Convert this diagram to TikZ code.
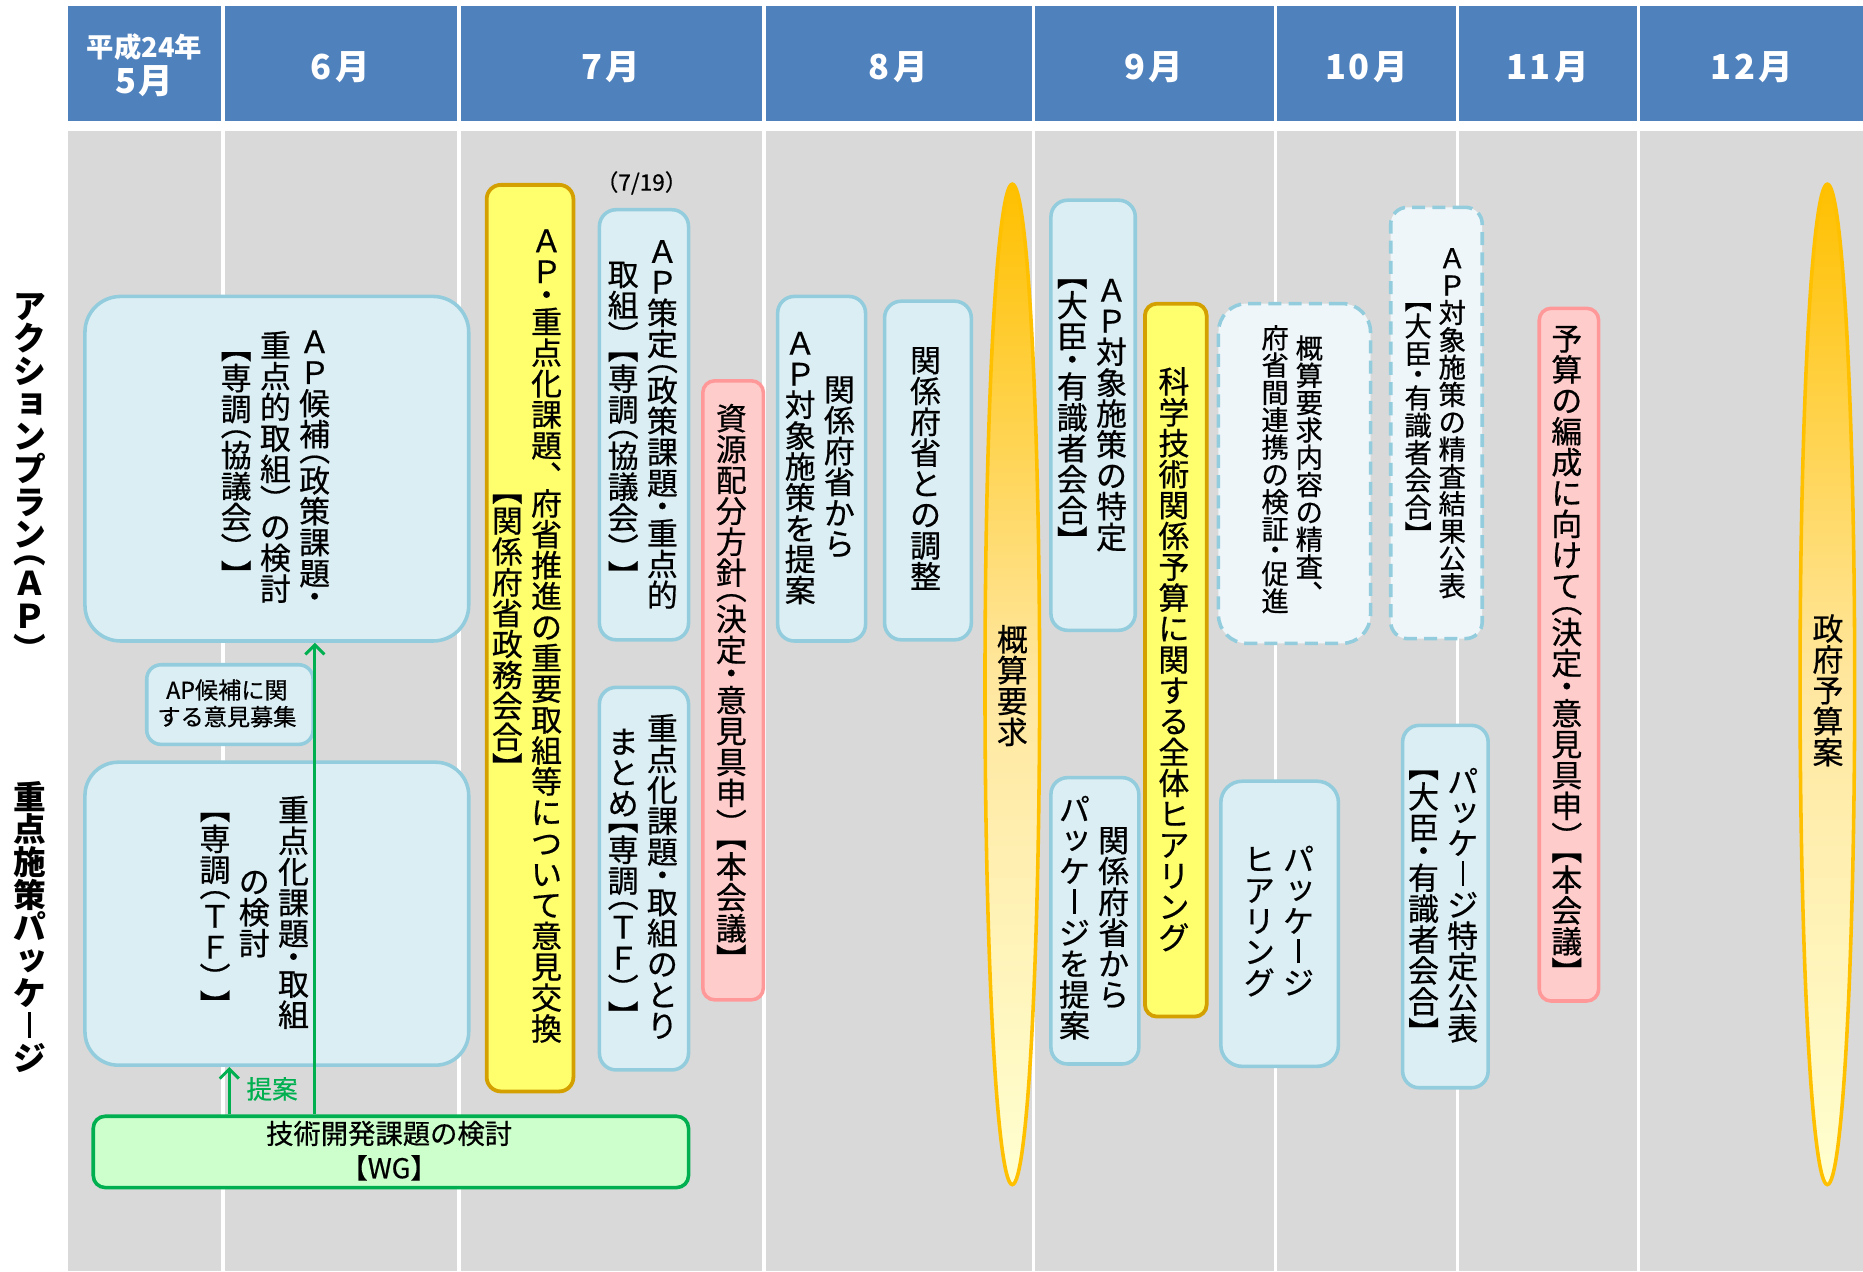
\documentclass[tikz,border=0pt]{standalone}
\usepackage{fontspec}
\setmainfont{Noto Sans CJK JP}
\newfontfamily\jpm{Noto Sans CJK JP}[FakeBold=0.6]
\usetikzlibrary{shapes.geometric,arrows.meta}
\definecolor{hdr}{HTML}{4F81BD}
\definecolor{bodyg}{HTML}{D9D9D9}
\definecolor{bfill}{HTML}{DBEEF4}
\definecolor{bline}{HTML}{93CDDD}
\definecolor{yfill}{HTML}{FFFF6E}
\definecolor{yline}{HTML}{D4A000}
\definecolor{pfill}{HTML}{FFCCCC}
\definecolor{pline}{HTML}{FF9999}
\definecolor{gfill}{HTML}{CCFFCC}
\definecolor{gline}{HTML}{00B050}
\definecolor{dfill}{HTML}{EEF6FA}
\definecolor{eline}{HTML}{FFC000}
\definecolor{etop}{HTML}{FFC000}
\definecolor{emid}{HTML}{FFE7A0}
\definecolor{ebot}{HTML}{FFFFD0}
\makeatletter
\def\vq@{\vq@}
\newcommand\vcol[1]{\vbox{\offinterlineskip\vcol@#1\vq@}}
\def\vcol@#1{\ifx\vq@#1\else\vcol@ch{#1}\expandafter\vcol@\fi}
\def\vcol@ch#1{\ifcat\noexpand#1\relax#1\else\vch{#1}\fi}
\newcommand\vch[1]{\hbox to1em{\hss\smash{#1}\hss\vrule height.88em depth.12em width0pt}}
\newcommand\vhalfup[1]{\hbox to1em{\hss\lower.38em\hbox{\smash{#1}}\hss\vrule height.5em depth0pt width0pt}}
\newcommand\vhalfdn[1]{\hbox to1em{\hss\smash{#1}\hss\vrule height.38em depth.12em width0pt}}
\newcommand\vLP{\vhalfdn{︵}}
\newcommand\vRP{\vhalfup{︶}}
\newcommand\vLB{\vhalfdn{︻}}
\newcommand\vRB{\vhalfup{︼}}
\newcommand\vCM{\vhalfup{︑}}
\newcommand\vDT{\hbox to1em{\hss\lower.13em\hbox{\smash{・}}\hss\vrule height.5em depth0pt width0pt}}
\newcommand\vCH{\hbox to1em{\hss\vrule width.08em height.8em depth0pt\hss\vrule height.88em depth.12em width0pt}}
\newcommand\vTU{\hbox to1em{\hss\kern.12em\raise.1em\hbox{\smash{ッ}}\hss\vrule height.88em depth.12em width0pt}}
\newcommand\vYO{\hbox to1em{\hss\kern.12em\raise.1em\hbox{\smash{ョ}}\hss\vrule height.88em depth.12em width0pt}}
\newcommand\vc[1]{$\vcenter{\vcol{#1}}$}
\makeatother
\newcommand\mkbox[6]{\node[#1,minimum width={#4-#2},minimum height={#5-#3}] (#6) at (#2,#3) {};}
\begin{document}
\begin{tikzpicture}[x=1pt,y=-1pt,
  hlab/.style={text=white,inner sep=0,font=\fontsize{29}{29}\selectfont\bfseries},
  bbox/.style={draw=bline,fill=bfill,line width=3pt,rounded corners=14pt,inner sep=0,anchor=north west},
  ybox/.style={draw=yline,fill=yfill,line width=3.2pt,rounded corners=12pt,inner sep=0,anchor=north west},
  pbox/.style={draw=pline,fill=pfill,line width=3pt,rounded corners=10pt,inner sep=0,anchor=north west},
  dbox/.style={draw=bline,fill=dfill,line width=3pt,dash pattern=on 11pt off 6pt,rounded corners=14pt,inner sep=0,anchor=north west},
  gbox/.style={draw=gline,fill=gfill,line width=3pt,rounded corners=10pt,inner sep=0,anchor=north west},
  lens/.style={ellipse,draw=eline,line width=3pt,top color=etop,bottom color=ebot,middle color=emid,inner sep=0,minimum width=46,minimum height=842},
  vt/.style={inner sep=0,font=\jpm\fontsize{26}{26}\selectfont},
  vts/.style={inner sep=0,font=\jpm\fontsize{23}{23}\selectfont},
  htx/.style={inner sep=0,align=center},
  side/.style={inner sep=0,font=\fontsize{27.5}{27.5}\selectfont\bfseries},
  garrow/.style={draw=gline,line width=2.5pt,-{Straight Barb[length=8pt,width=16pt]}},
]
\useasboundingbox (0,0) rectangle (1568,1070);
\fill[white] (0,0) rectangle (1568,1070);
\foreach \a/\b in {57/186,189/385,388/641.5,644.5/868.5,871/1072.5,1075/1225.5,1228/1377.5,1380.5/1568}{
  \fill[hdr] (\a,5) rectangle (\b,102);
  \fill[bodyg] (\a,110) rectangle (\b,1070);
}
% header labels
\node[hlab,font=\fontsize{23}{23}\selectfont\bfseries] (h0a) at (121.5,39.5) {平成24年};
\node[hlab] (h0b) at (121.5,68.5) {5\kern2pt月};
\node[hlab] (h1) at (286.5,56.5) {6\kern3pt月};
\node[hlab] (h2) at (514,56.5) {7\kern3pt月};
\node[hlab] (h3) at (756,56.5) {8\kern3pt月};
\node[hlab] (h4) at (971.2,56.5) {9\kern3pt月};
\node[hlab] (h5) at (1150.2,56.5) {1\kern2pt0\kern3pt月};
\node[hlab] (h6) at (1302.7,56.5) {1\kern2pt1\kern3pt月};
\node[hlab] (h7) at (1474.5,56.5) {1\kern2pt2\kern3pt月};
% side labels
\node[side] (s1) at (25,400) {\vc{アクシ\vYO ンプラン\vLP ＡＰ\vRP}};
\node[side] (s2) at (25,780.5) {\vc{重点施策パ\vTU ケ\vCH ジ}};
% boxes
\mkbox{bbox,rounded corners=30pt}{70}{248}{393}{538}{A}
\mkbox{bbox,rounded corners=12pt}{122}{558}{262}{625}{B}
\mkbox{bbox,rounded corners=28pt}{70}{640}{393}{895}{C}
\mkbox{gbox}{77}{938}{578}{998}{WG}
\mkbox{ybox}{408}{154}{481}{917}{E}
\mkbox{bbox}{503}{175}{578}{537}{G}
\mkbox{bbox}{503}{577}{578}{899}{I}
\mkbox{pbox}{590}{319}{641}{840}{H}
\mkbox{bbox}{653}{248}{727}{538}{J}
\mkbox{bbox}{743}{252}{816}{537}{K}
\node[lens] (L) at (852,576) {};
\mkbox{bbox}{883}{167}{954}{529}{M}
\mkbox{bbox}{883}{653}{957}{894}{N}
\mkbox{ybox,rounded corners=10pt}{962}{254}{1014}{854}{O}
\mkbox{dbox,rounded corners=24pt}{1024}{254}{1152}{540}{P}
\mkbox{dbox}{1169}{173}{1246}{536}{R}
\mkbox{bbox,rounded corners=18pt}{1026}{656}{1125}{896}{S}
\mkbox{bbox}{1179}{609}{1251}{914}{T}
\mkbox{pbox}{1294}{258}{1344}{841}{Q}
\node[lens] (U) at (1538,576) {};
% texts
\node[vt] (At) at (231.8,393) {\vc{\vLB 専調\vLP 協議会\vRP\vRB}\kern.27em\vc{重点的取組\vRP の検討}\kern.27em\vc{ＡＰ候補\vLP 政策課題\vDT}};
\node[htx,font=\jpm\fontsize{19.5}{22.5}\selectfont] (Bt) at (191,592) {AP候補に関\\する意見募集};
\node[vt] (Ct) at (214,767.8) {\vc{\vLB 専調\vLP ＴＦ\vRP\vRB}\kern.27em\vc{の検討}\kern.27em\vc{重点化課題\vDT 取組}};
\node[htx,font=\jpm\fontsize{23}{29}\selectfont] (WGt) at (327.5,968.5) {技術開発課題の検討\\【WG】};
\node[vt] (Et) at (443.5,534) {\vc{\vLB 関係府省政務会合\vRB}\kern.27em\vc{ＡＰ\vDT 重点化課題\vCM 府省推進の重要取組等について意見交換}};
\node[htx,font=\jpm\fontsize{19}{19}\selectfont] (date) at (540,154) {（7/19）};
\node[vt] (Gt) at (541,356) {\vc{取組\vRP\vLB 専調\vLP 協議会\vRP\vRB}\kern.27em\vc{ＡＰ策定\vLP 政策課題\vDT 重点的}};
\node[vt] (It) at (541,738) {\vc{まとめ\vLB 専調\vLP ＴＦ\vRP\vRB}\kern.27em\vc{重点化課題\vDT 取組のとり}};
\node[vt] (Ht) at (615.5,578) {\vc{資源配分方針\vLP 決定\vDT 意見具申\vRP\vLB 本会議\vRB}};
\node[vt] (Jt) at (690,392.6) {\vc{ＡＰ対象施策を提案}\kern.27em\vc{関係府省から}};
\node[vt] (Kt) at (779,394) {\vc{関係府省との調整}};
\node[vt] (Lt) at (852,577) {\vc{概算要求}};
\node[vt] (Mt) at (919,348) {\vc{\vLB 大臣\vDT 有識者会合\vRB}\kern.27em\vc{ＡＰ対象施策の特定}};
\node[vt] (Nt) at (920.8,772) {\vc{パ\vTU ケ\vCH ジを提案}\kern.27em\vc{関係府省から}};
\node[vt] (Ot) at (988,555) {\vc{科学技術関係予算に関する全体ヒアリング}};
\node[vts] (Pt) at (1087.6,395) {\vc{府省間連携の検証\vDT 促進}\kern.25em\vc{概算要求内容の精査\vCM}};
\node[vts] (Rt) at (1207.9,355) {\vc{\vLB 大臣\vDT 有識者会合\vRB}\kern.25em\vc{ＡＰ対象施策の精査結果公表}};
\node[vt] (St) at (1076.4,775) {\vc{ヒアリング}\kern.27em\vc{パ\vTU ケ\vCH ジ}};
\node[vt] (Tt) at (1214.6,761.5) {\vc{\vLB 大臣\vDT 有識者会合\vRB}\kern.27em\vc{パ\vTU ケ\vCH ジ特定公表}};
\node[vt] (Qt) at (1318.7,550) {\vc{予算の編成に向けて\vLP 決定\vDT 意見具申\vRP\vLB 本会議\vRB}};
\node[vt] (Ut) at (1538.5,581) {\vc{政府予算案}};
% arrows
\coordinate (xL) at (265,0);
\coordinate (xS) at (193,0);
\draw[garrow] (WG.north -| xL) -- (A.south -| xL);
\draw[garrow] (WG.north -| xS) -- (C.south -| xS);
\node[inner sep=0,text=gline,font=\jpm\fontsize{21.5}{21.5}\selectfont] (teian) at (229,916.5) {提案};
\end{tikzpicture}
\end{document}
